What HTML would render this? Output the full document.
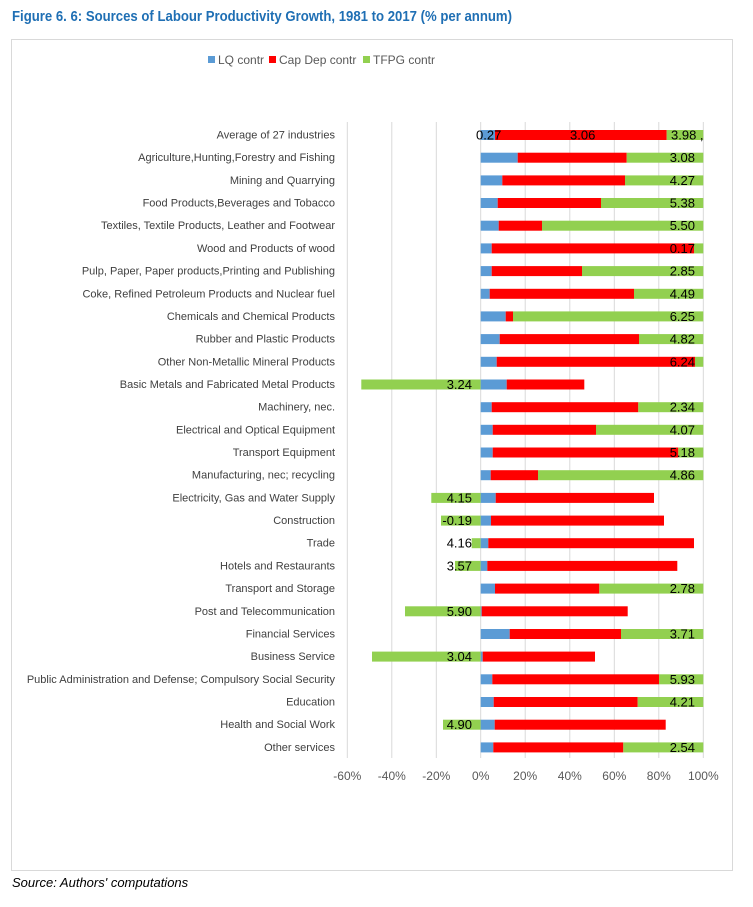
<!DOCTYPE html>
<html><head><meta charset="utf-8"><style>
body{margin:0;background:#fff;width:753px;height:907px;overflow:hidden}
svg{display:block}
.c{font-family:"Liberation Sans",sans-serif;font-size:11px;fill:#404040}
.d{font-family:"Liberation Sans",sans-serif;font-size:13px;fill:#000}
.t{font-family:"Liberation Sans",sans-serif;font-size:12px;fill:#595959}
</style></head><body>
<svg width="753" height="907" viewBox="0 0 753 907" xmlns="http://www.w3.org/2000/svg">
<text x="12" y="21" font-family="Liberation Sans,sans-serif" font-weight="bold" font-size="14.5" fill="#1f6fb4" textLength="500" lengthAdjust="spacingAndGlyphs">Figure 6. 6: Sources of Labour Productivity Growth, 1981 to 2017 (% per annum)</text>
<rect x="11.5" y="39.5" width="721" height="831" fill="none" stroke="#d9d9d9"/>
<rect x="208" y="56" width="7" height="7" fill="#5b9bd5"/><text x="218" y="64" class="t" font-size="12">LQ contr</text>
<rect x="269" y="56" width="7" height="7" fill="#ff0000"/><text x="279" y="64" class="t">Cap Dep contr</text>
<rect x="363" y="56" width="7" height="7" fill="#92d050"/><text x="373" y="64" class="t">TFPG contr</text>
<g stroke="#d9d9d9" stroke-width="1">
<line x1="347.3" y1="122" x2="347.3" y2="758"/><line x1="391.8" y1="122" x2="391.8" y2="758"/><line x1="436.3" y1="122" x2="436.3" y2="758"/><line x1="480.7" y1="122" x2="480.7" y2="758"/><line x1="525.2" y1="122" x2="525.2" y2="758"/><line x1="569.8" y1="122" x2="569.8" y2="758"/><line x1="614.3" y1="122" x2="614.3" y2="758"/><line x1="658.8" y1="122" x2="658.8" y2="758"/><line x1="703.3" y1="122" x2="703.3" y2="758"/>
</g>
<g class="t" text-anchor="middle">
<text x="347.3" y="780">-60%</text><text x="391.8" y="780">-40%</text><text x="436.3" y="780">-20%</text><text x="480.7" y="780">0%</text><text x="525.2" y="780">20%</text><text x="569.8" y="780">40%</text><text x="614.3" y="780">60%</text><text x="658.8" y="780">80%</text><text x="703.3" y="780">100%</text>
</g>
<g class="c" text-anchor="end">
<text x="335" y="138.5">Average of 27 industries</text>
<text x="335" y="161.2">Agriculture,Hunting,Forestry and Fishing</text>
<text x="335" y="183.9">Mining and Quarrying</text>
<text x="335" y="206.5">Food Products,Beverages and Tobacco</text>
<text x="335" y="229.2">Textiles, Textile Products, Leather and Footwear</text>
<text x="335" y="251.9">Wood and Products of wood</text>
<text x="335" y="274.6">Pulp, Paper, Paper products,Printing and Publishing</text>
<text x="335" y="297.3">Coke, Refined Petroleum Products and Nuclear fuel</text>
<text x="335" y="319.9">Chemicals and  Chemical Products</text>
<text x="335" y="342.6">Rubber and Plastic Products</text>
<text x="335" y="365.3">Other Non-Metallic Mineral Products</text>
<text x="335" y="388">Basic Metals and Fabricated Metal Products</text>
<text x="335" y="410.7">Machinery, nec.</text>
<text x="335" y="433.3">Electrical and Optical Equipment</text>
<text x="335" y="456">Transport Equipment</text>
<text x="335" y="478.7">Manufacturing, nec; recycling</text>
<text x="335" y="501.4">Electricity, Gas and Water Supply</text>
<text x="335" y="524.1">Construction</text>
<text x="335" y="546.7">Trade</text>
<text x="335" y="569.4">Hotels and Restaurants</text>
<text x="335" y="592.1">Transport and Storage</text>
<text x="335" y="614.8">Post and Telecommunication</text>
<text x="335" y="637.5">Financial Services</text>
<text x="335" y="660.1">Business Service</text>
<text x="335" y="682.8">Public Administration and Defense; Compulsory Social Security</text>
<text x="335" y="705.5">Education</text>
<text x="335" y="728.2">Health and Social Work</text>
<text x="335" y="750.9">Other services</text>
</g>
<g>
<!-- row 0 -->
<rect x="480.7" y="130" width="14.3" height="10" fill="#5b9bd5"/><rect x="495" y="130" width="171.7" height="10" fill="#ff0000"/><rect x="666.7" y="130" width="36.6" height="10" fill="#92d050"/>
<!-- positives: blue 480.7->b, red b->r, green r->703.3 -->
<rect x="480.7" y="152.7" width="37" height="10" fill="#5b9bd5"/><rect x="517.7" y="152.7" width="109" height="10" fill="#ff0000"/><rect x="626.7" y="152.7" width="76.6" height="10" fill="#92d050"/>
<rect x="480.7" y="175.4" width="21.6" height="10" fill="#5b9bd5"/><rect x="502.3" y="175.4" width="122.7" height="10" fill="#ff0000"/><rect x="625" y="175.4" width="78.3" height="10" fill="#92d050"/>
<rect x="480.7" y="198" width="17" height="10" fill="#5b9bd5"/><rect x="497.7" y="198" width="103.3" height="10" fill="#ff0000"/><rect x="601" y="198" width="102.3" height="10" fill="#92d050"/>
<rect x="480.7" y="220.7" width="18" height="10" fill="#5b9bd5"/><rect x="498.7" y="220.7" width="43.3" height="10" fill="#ff0000"/><rect x="542" y="220.7" width="161.3" height="10" fill="#92d050"/>
<rect x="480.7" y="243.4" width="11" height="10" fill="#5b9bd5"/><rect x="491.7" y="243.4" width="202.3" height="10" fill="#ff0000"/><rect x="694" y="243.4" width="9.3" height="10" fill="#92d050"/>
<rect x="480.7" y="266.1" width="11" height="10" fill="#5b9bd5"/><rect x="491.7" y="266.1" width="90.3" height="10" fill="#ff0000"/><rect x="582" y="266.1" width="121.3" height="10" fill="#92d050"/>
<rect x="480.7" y="288.8" width="9" height="10" fill="#5b9bd5"/><rect x="489.7" y="288.8" width="144.3" height="10" fill="#ff0000"/><rect x="634" y="288.8" width="69.3" height="10" fill="#92d050"/>
<rect x="480.7" y="311.4" width="25" height="10" fill="#5b9bd5"/><rect x="505.7" y="311.4" width="7.3" height="10" fill="#ff0000"/><rect x="513" y="311.4" width="190.3" height="10" fill="#92d050"/>
<rect x="480.7" y="334.1" width="19" height="10" fill="#5b9bd5"/><rect x="499.7" y="334.1" width="139.3" height="10" fill="#ff0000"/><rect x="639" y="334.1" width="64.3" height="10" fill="#92d050"/>
<rect x="480.7" y="356.8" width="16" height="10" fill="#5b9bd5"/><rect x="496.7" y="356.8" width="198.3" height="10" fill="#ff0000"/><rect x="695" y="356.8" width="8.3" height="10" fill="#92d050"/>
<rect x="361.3" y="379.5" width="119.4" height="10" fill="#92d050"/><rect x="480.7" y="379.5" width="26" height="10" fill="#5b9bd5"/><rect x="506.7" y="379.5" width="77.6" height="10" fill="#ff0000"/>
<rect x="480.7" y="402.2" width="11" height="10" fill="#5b9bd5"/><rect x="491.7" y="402.2" width="146.6" height="10" fill="#ff0000"/><rect x="638.3" y="402.2" width="65" height="10" fill="#92d050"/>
<rect x="480.7" y="424.8" width="12" height="10" fill="#5b9bd5"/><rect x="492.7" y="424.8" width="103.3" height="10" fill="#ff0000"/><rect x="596" y="424.8" width="107.3" height="10" fill="#92d050"/>
<rect x="480.7" y="447.5" width="12" height="10" fill="#5b9bd5"/><rect x="492.7" y="447.5" width="185.6" height="10" fill="#ff0000"/><rect x="678.3" y="447.5" width="25" height="10" fill="#92d050"/>
<rect x="480.7" y="470.2" width="10" height="10" fill="#5b9bd5"/><rect x="490.7" y="470.2" width="47.3" height="10" fill="#ff0000"/><rect x="538" y="470.2" width="165.3" height="10" fill="#92d050"/>
<rect x="431.3" y="492.9" width="49.4" height="10" fill="#92d050"/><rect x="480.7" y="492.9" width="15" height="10" fill="#5b9bd5"/><rect x="495.7" y="492.9" width="158.3" height="10" fill="#ff0000"/>
<rect x="441" y="515.6" width="39.7" height="10" fill="#92d050"/><rect x="480.7" y="515.6" width="10.3" height="10" fill="#5b9bd5"/><rect x="491" y="515.6" width="173" height="10" fill="#ff0000"/>
<rect x="471.7" y="538.2" width="9" height="10" fill="#92d050"/><rect x="480.7" y="538.2" width="7.6" height="10" fill="#5b9bd5"/><rect x="488.3" y="538.2" width="205.7" height="10" fill="#ff0000"/>
<rect x="455" y="560.9" width="25.7" height="10" fill="#92d050"/><rect x="480.7" y="560.9" width="6.6" height="10" fill="#5b9bd5"/><rect x="487.3" y="560.9" width="190" height="10" fill="#ff0000"/>
<rect x="480.7" y="583.6" width="14.3" height="10" fill="#5b9bd5"/><rect x="495" y="583.6" width="104.3" height="10" fill="#ff0000"/><rect x="599.3" y="583.6" width="104" height="10" fill="#92d050"/>
<rect x="405" y="606.3" width="75.7" height="10" fill="#92d050"/><rect x="480.7" y="606.3" width="1" height="10" fill="#5b9bd5"/><rect x="481.7" y="606.3" width="146" height="10" fill="#ff0000"/>
<rect x="480.7" y="629" width="29" height="10" fill="#5b9bd5"/><rect x="509.7" y="629" width="111.3" height="10" fill="#ff0000"/><rect x="621" y="629" width="82.3" height="10" fill="#92d050"/>
<rect x="372" y="651.6" width="108.7" height="10" fill="#92d050"/><rect x="480.7" y="651.6" width="2" height="10" fill="#5b9bd5"/><rect x="482.7" y="651.6" width="112.3" height="10" fill="#ff0000"/>
<rect x="480.7" y="674.3" width="11.6" height="10" fill="#5b9bd5"/><rect x="492.3" y="674.3" width="166.7" height="10" fill="#ff0000"/><rect x="659" y="674.3" width="44.3" height="10" fill="#92d050"/>
<rect x="480.7" y="697" width="13" height="10" fill="#5b9bd5"/><rect x="493.7" y="697" width="144" height="10" fill="#ff0000"/><rect x="637.7" y="697" width="65.6" height="10" fill="#92d050"/>
<rect x="443" y="719.7" width="37.7" height="10" fill="#92d050"/><rect x="480.7" y="719.7" width="14" height="10" fill="#5b9bd5"/><rect x="494.7" y="719.7" width="171" height="10" fill="#ff0000"/>
<rect x="480.7" y="742.4" width="12.6" height="10" fill="#5b9bd5"/><rect x="493.3" y="742.4" width="130" height="10" fill="#ff0000"/><rect x="623.3" y="742.4" width="80" height="10" fill="#92d050"/>
</g>
<g class="d">
<text x="476" y="139.5">0.27</text><text x="570" y="139.5">3.06</text><text x="671" y="139.5">3.98 ,</text>
</g>
<g class="d" text-anchor="end">
<text x="695" y="162.2">3.08</text><text x="695" y="184.9">4.27</text><text x="695" y="207.5">5.38</text><text x="695" y="230.2">5.50</text><text x="695" y="252.9">0.17</text><text x="695" y="275.6">2.85</text><text x="695" y="298.3">4.49</text><text x="695" y="320.9">6.25</text><text x="695" y="343.6">4.82</text><text x="695" y="366.3">6.24</text>
<text x="472" y="389">3.24</text>
<text x="695" y="411.7">2.34</text><text x="695" y="434.3">4.07</text><text x="695" y="457">5.18</text><text x="695" y="479.7">4.86</text>
<text x="472" y="502.4">4.15</text><text x="472" y="525.1">-0.19</text><text x="472" y="547.7">4.16</text><text x="472" y="570.4">3.57</text>
<text x="695" y="593.1">2.78</text>
<text x="472" y="615.8">5.90</text>
<text x="695" y="638.5">3.71</text>
<text x="472" y="661.1">3.04</text>
<text x="695" y="683.8">5.93</text><text x="695" y="706.5">4.21</text>
<text x="472" y="729.2">4.90</text>
<text x="695" y="751.9">2.54</text>
</g>
<text x="12" y="887" font-family="Liberation Sans,sans-serif" font-style="italic" font-size="13" fill="#000">Source: Authors' computations</text>
</svg>
</body></html>
